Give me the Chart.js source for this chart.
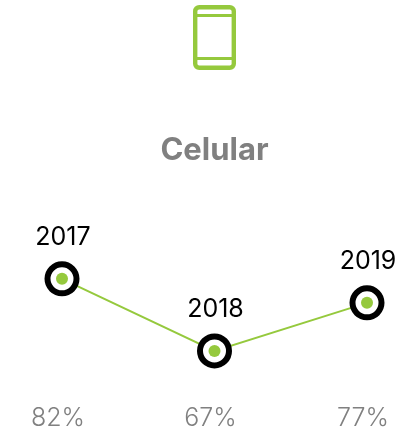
<!DOCTYPE html>
<html><head><meta charset="utf-8">
<style>
html,body{margin:0;padding:0;background:#fff;width:401px;height:433px;overflow:hidden}
#icon{position:absolute;left:190px;top:2px}
canvas{position:absolute;left:0;top:0}
</style>
<script src="https://cdn.jsdelivr.net/npm/chart.js@4"></script>
</head><body>
<canvas id="c" width="401" height="433"></canvas>
<svg id="icon" width="50" height="72" viewBox="0 0 50 72">
<rect x="5.2" y="5.2" width="38.6" height="60.6" rx="4" fill="none" stroke="#95c93d" stroke-width="4.4"/>
<path d="M5 13.5H44M5 56.5H44" stroke="#95c93d" stroke-width="3" fill="none"/>
</svg>
<script>
const years = ["2017", "2018", "2019"];
const shares = [82, 67, 77];
const titleText = "Celular";
const green = "#95c93d";
const grey = "#808080";
const family = "Inter, 'Open Sans', sans-serif";

const yearLabels = {
  id: "yearLabels",
  afterDatasetsDraw(chart) {
    const ctx = chart.ctx;
    const pts = chart.getDatasetMeta(0).data;
    ctx.save();
    ctx.font = "400 25px " + family;
    ctx.fillStyle = "#000";
    ctx.textAlign = "center";
    ctx.textBaseline = "middle";
    pts.forEach((p, i) => ctx.fillText(years[i], p.x + 1, p.y - 41));
    ctx.restore();
  }
};

new Chart(document.getElementById("c"), {
  type: "line",
  plugins: [yearLabels],
  data: {
    labels: years,
    datasets: [
      { data: shares, borderColor: green, borderWidth: 2, tension: 0,
        pointRadius: 14.5, pointBorderWidth: 6, pointBorderColor: "#000",
        pointBackgroundColor: "#fff", clip: false, order: 2 },
      { data: shares, showLine: false, pointRadius: 6, pointBorderWidth: 0,
        pointBackgroundColor: green, clip: false, order: 1 }
    ]
  },
  options: {
    responsive: false,
    animation: false,
    layout: { padding: { left: 62, right: 34, top: 0, bottom: 0 } },
    plugins: {
      legend: { display: false },
      tooltip: { enabled: false },
      title: { display: true, fullSize: false, text: titleText, color: grey,
        font: { family, size: 31, weight: "700" },
        padding: { top: 132, bottom: 23 } }
    },
    scales: {
      x: { offset: false, grid: { display: false }, border: { display: false },
        afterFit: s => { s.height = 48.4; s.paddingLeft = 0; s.paddingRight = 0; },
        ticks: { color: grey, font: { family, size: 25, weight: "300" }, padding: 11,
          labelOffset: -4, maxRotation: 0, autoSkip: false,
          callback: (v, i) => shares[i] + "%" } },
      y: { display: false, min: 60, max: 100 }
    }
  }
});
</script>
</body></html>
